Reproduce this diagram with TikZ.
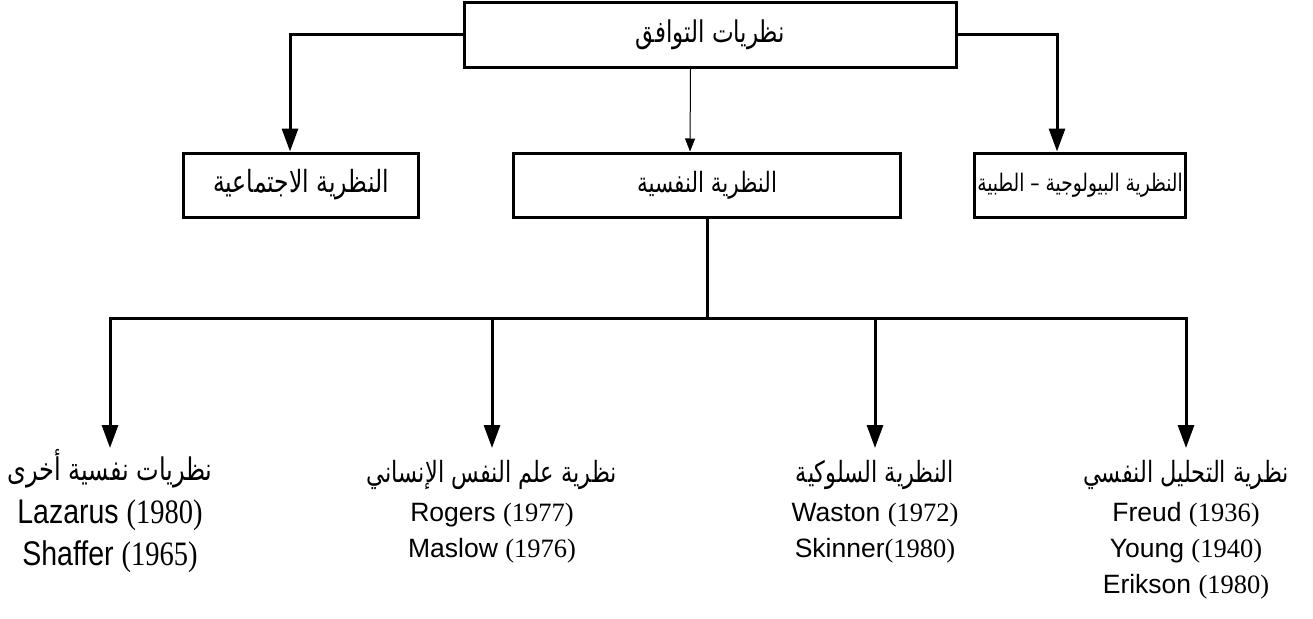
\documentclass[tikz,border=0pt]{standalone}
\usepackage{fontspec}
\setmainfont{Liberation Sans}
\newfontfamily\arfont[Script=Arabic]{DejaVu Sans}
\newfontfamily\tnrfont{Liberation Serif}
\TeXXeTstate=1
\usetikzlibrary{arrows.meta,calc}
\newcommand{\ARs}[2]{\scalebox{1}[1.3]{\fontsize{#1}{#1}\selectfont\arfont #2}}
\newcommand{\yr}[1]{{\tnrfont(#1)}}
\newcommand{\tallline}[1]{\scalebox{1}[1.2]{#1}}
\begin{document}
\begin{tikzpicture}[x=1pt,y=-1pt,
  boxnode/.style={draw, line width=3pt, minimum height=64pt, inner sep=0pt},
  conn/.style={line width=3pt, -{Triangle[length=23pt,width=16pt]}},
  thinconn/.style={line width=1pt, -{Triangle[length=13pt,width=10pt]}},
  grp/.style={align=center, anchor=north, inner xsep=0pt, inner ysep=12pt, font=\fontsize{26.5}{36}\selectfont},
  grpbig/.style={align=center, anchor=north, inner xsep=0pt, inner ysep=1pt, font=\fontsize{28.5}{42}\selectfont}]
\useasboundingbox (0,0) rectangle (1313,618);
% boxes
\node[boxnode, minimum width=492pt] (top) at (710.5,35) {\ARs{23}{\beginR نظريات التوافق\endR}};
\node[boxnode, minimum width=235pt] (left) at (301,185) {\ARs{23.5}{\beginR النظرية الاجتماعية\endR}};
\node[boxnode, minimum width=387pt] (mid) at (707,185) {\ARs{21.5}{\beginR النظرية النفسية\endR}};
\node[boxnode, minimum width=211pt] (right) at (1080,185) {\ARs{18.6}{\beginR النظرية البيولوجية – الطبية\endR}};
% groups
\node[grpbig] (g1) at (110,448) {\ARs{24}{\beginR نظريات نفسية أخرى\endR}\\[1pt]
  \tallline{Lazarus \yr{1980}}\\
  \tallline{Shaffer \yr{1965}}};
\node[grp] (g2) at (492,448) {\ARs{22.5}{\beginR نظرية علم النفس الإنساني\endR}\\[3pt]
  Rogers \yr{1977}\\
  Maslow \yr{1976}};
\node[grp] (g3) at (875,448) {\ARs{22.5}{\beginR النظرية السلوكية\endR}\\[3pt]
  Waston \yr{1972}\\
  Skinner\yr{1980}};
\node[grp] (g4) at (1186,448) {\ARs{22.5}{\beginR نظرية التحليل النفسي\endR}\\[3pt]
  Freud \yr{1936}\\
  Young \yr{1940}\\
  Erikson \yr{1980}};
% connectors
\draw[conn] (top.west) -| ($(left.north)+(-11,0)$);
\draw[conn] (top.east) -| ($(right.north)+(-23,0)$);
\draw[thinconn] ($(top.south)+(-20,0)$) -- ($(mid.north)+(-17,0)$);
\coordinate (j) at (707,318);
\draw[line width=3pt] (mid.south) -- (j);
\draw[conn] (j) -| (g1.north);
\draw[conn] (j) -| (g2.north);
\draw[conn] (j) -| (g3.north);
\draw[conn] (j) -| (g4.north);
\end{tikzpicture}
\end{document}
